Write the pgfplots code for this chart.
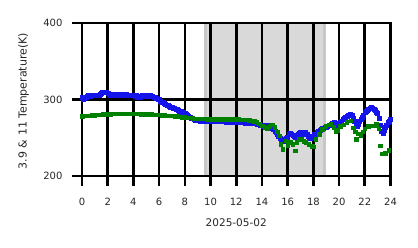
\documentclass[border=0pt]{standalone}
\usepackage{fontspec}
\setmainfont{DejaVu Sans}
\usepackage{pgfplots}
\usepackage{pgfplotstable}
\pgfplotsset{compat=1.18}
\definecolor{cblue}{RGB}{20,20,235}
\definecolor{cgreen}{RGB}{0,128,0}
\definecolor{spanfill}{RGB}{217,217,217}
\definecolor{spanedge}{RGB}{200,200,200}

\pgfplotstableread{
h T
0.0 303
0.1 301
0.2 302
0.3 303
0.4 304
0.5 305
0.6 304
0.7 305
0.8 306
0.9 305
1.0 306
1.1 306
1.2 305
1.3 306
1.4 307
1.5 308
1.6 309
1.7 309
1.8 310
1.9 309
2.0 308
2.1 307
2.2 306
2.3 307
2.4 306
2.5 305
2.6 307
2.7 307
2.8 306
2.9 305
3.0 306
3.1 307
3.2 306
3.3 305
3.4 307
3.5 306
3.6 305
3.7 306
3.8 305
3.9 306
4.0 305
4.1 304
4.2 305
4.3 303
4.4 304
4.5 303
4.6 304
4.7 305
4.8 304
4.9 305
5.0 304
5.1 305
5.2 304
5.3 305
5.4 304
5.5 304
5.6 303
5.7 303
5.8 302
5.9 301
6.0 300
6.1 298
6.2 297
6.3 296
6.4 295
6.5 294
6.6 293
6.7 292
6.8 291
6.9 290
7.0 290
7.1 289
7.2 288
7.3 287
7.4 287
7.5 286
7.6 285
7.7 285
7.8 284
7.9 283
8.0 282
8.1 281
8.2 280
8.3 278
8.4 277
8.5 276
8.6 275
8.7 274
8.8 273
8.9 273
9.0 272.5
9.1 272.5
9.2 272
9.3 272.5
9.4 272
9.5 272
9.6 272.5
9.7 272
9.8 272
9.9 271.5
10.0 272
10.1 271.5
10.2 272
10.3 271.5
10.4 271.5
10.5 271
10.6 271.5
10.7 271
10.8 271.5
10.9 271
11.0 271
11.1 271
11.2 270.5
11.3 271
11.4 270.5
11.5 270.5
11.6 271
11.7 270.5
11.8 270
11.9 270.5
12.0 270.5
12.1 270
12.2 270.5
12.3 270
12.4 270
12.5 270.5
12.6 270
12.7 269.5
12.8 270
12.9 269.5
13.0 269.5
13.1 269
13.2 269
13.3 268.5
13.4 269
13.5 268.5
13.6 268
13.7 268
13.8 267.5
13.9 267
14.0 266
14.1 265
14.2 266
14.3 267
14.4 266
14.5 265
14.6 264
14.7 263
14.8 262
14.9 261
15.0 259
15.1 257
15.2 254
15.3 252
15.4 250
15.5 248
15.6 247
15.7 246
15.8 247
15.9 249
16.0 251
16.1 254
16.2 256
16.3 255
16.4 253
16.5 252
16.6 251
16.7 252
16.8 254
16.9 256
17.0 257
17.1 256
17.2 255
17.3 256
17.4 257
17.5 255
17.6 252
17.7 250
17.8 249
17.9 250
18.0 252
18.1 254
18.2 255
18.3 257
18.4 259
18.5 260
18.6 261
18.7 262
18.8 263
18.9 264
19.0 264
19.1 265
19.2 266
19.3 267
19.4 268
19.5 269
19.6 270
19.7 269
19.8 268
19.9 267
20.0 268
20.1 270
20.2 272
20.3 274
20.4 276
20.5 277
20.6 278
20.7 279
20.8 280
20.9 281
21.0 279
21.1 276
21.2 272
21.3 267
21.4 265
21.5 268
21.6 271
21.7 274
21.8 277
21.9 280
22.0 283
22.1 285
22.2 286
22.3 287
22.4 289
22.5 290
22.6 289
22.7 287
22.8 286
22.9 284
23.0 282
23.1 276
23.2 267
23.3 259
23.4 256
23.5 260
23.6 264
23.7 267
23.8 270
23.9 272
24.0 274
}\bluedata

\pgfplotstableread{
h T
0.0 278
0.2 278.5
0.4 279
0.6 279
0.8 279.5
1.0 279.5
1.2 280
1.4 280
1.6 280.5
1.8 281
2.0 281
2.2 281
2.4 281.5
2.6 281.5
2.8 281.5
3.0 281.5
3.2 281.5
3.4 281.5
3.6 281.5
3.8 281.5
4.0 281.5
4.2 281.5
4.4 281.5
4.6 281
4.8 281
5.0 281
5.2 280.5
5.4 280.5
5.6 280
5.8 280
6.0 280
6.2 279.5
6.4 279.5
6.6 279
6.8 279
7.0 278.5
7.2 278
7.4 278
7.6 277.5
7.8 277
8.0 277
8.2 276.5
8.4 276
8.6 275.5
8.8 275
9.0 275
9.2 275
9.4 275
9.6 275
9.8 274.5
10.0 274.5
10.2 274.5
10.4 274.5
10.6 274.5
10.8 274
11.0 274
11.2 274
11.4 274
11.6 274
11.8 274
12.0 274
12.2 274
12.4 273.5
12.6 273.5
12.8 273.5
13.0 273
13.2 272.5
13.4 271.5
13.6 270
13.8 268.5
14.0 266
14.2 264
14.4 262.5
14.6 265
14.8 267
15.0 264
15.2 258
15.35 253
15.45 241.5
15.6 235
15.85 246
16.0 240
16.2 244
16.4 241.5
16.6 233
16.7 244
16.9 248
17.1 248
17.25 245.5
17.4 244
17.65 241.5
17.9 239
18.0 238
18.2 248
18.45 254.5
18.7 261
18.95 265
19.2 267
19.35 267.5
19.6 264
19.75 258
19.9 260
20.1 265
20.35 267
20.6 270
20.9 272.5
21.1 263
21.25 258
21.35 248
21.5 255
21.7 252.5
21.85 258
22.0 262
22.25 265
22.5 266
22.75 266
22.9 268
23.1 262
23.2 239.5
23.35 229
23.6 230
23.85 234
}\greendata

\begin{document}
\begin{tikzpicture}
\begin{axis}[
  set layers,
  scale only axis,
  width=308.5pt, height=153pt,
  at={(0pt,0pt)}, anchor=south west,
  xmin=0, xmax=24, ymin=200, ymax=400,
  xtick={0,2,...,24}, ytick={200,300,400},
  tick pos=left,
  tick align=outside,
  major tick length=10pt,
  every tick/.style={black, line width=2.6pt},
  axis line style={black, line width=2.6pt},
  grid=major,
  major grid style={black, line width=2.6pt},
  /pgf/number format/assume math mode=true,
  ticklabel style={font=\fontsize{10}{12}\selectfont, text=black!85},
  xticklabel style={yshift=-9pt},
  yticklabel style={xshift=-6pt},
  label style={text=black!85},
  xlabel={2025-05-02},
  ylabel={3.9 \& 11 Temperature(K)},
  xlabel style={font=\fontsize{10.5}{12}\selectfont, at={(axis description cs:0.5,-0.307)}, anchor=center},
  ylabel style={font=\fontsize{11}{12}\selectfont, at={(axis description cs:-0.1896,0.49)}, anchor=center, rotate=0},
  clip=true,
]
\begin{pgfonlayer}{axis background}
\fill[spanfill] (axis cs:9.6,200) rectangle (axis cs:18.9,400);
\draw[spanedge, line width=3pt] (axis cs:9.6,200) -- (axis cs:9.6,400);
\draw[spanedge, line width=3pt] (axis cs:18.9,200) -- (axis cs:18.9,400);
\end{pgfonlayer}
\addplot[only marks, mark=square*, mark size=2pt, cblue, mark options={draw=none, fill=cblue}] table[x=h, y=T] {\bluedata};
\addplot[only marks, mark=square*, mark size=1.75pt, cgreen, mark options={draw=none, fill=cgreen}] table[x=h, y=T] {\greendata};
\end{axis}
\pgfresetboundingbox
\useasboundingbox (-82pt,-72pt) rectangle (336pt,176pt);
\end{tikzpicture}
\end{document}
